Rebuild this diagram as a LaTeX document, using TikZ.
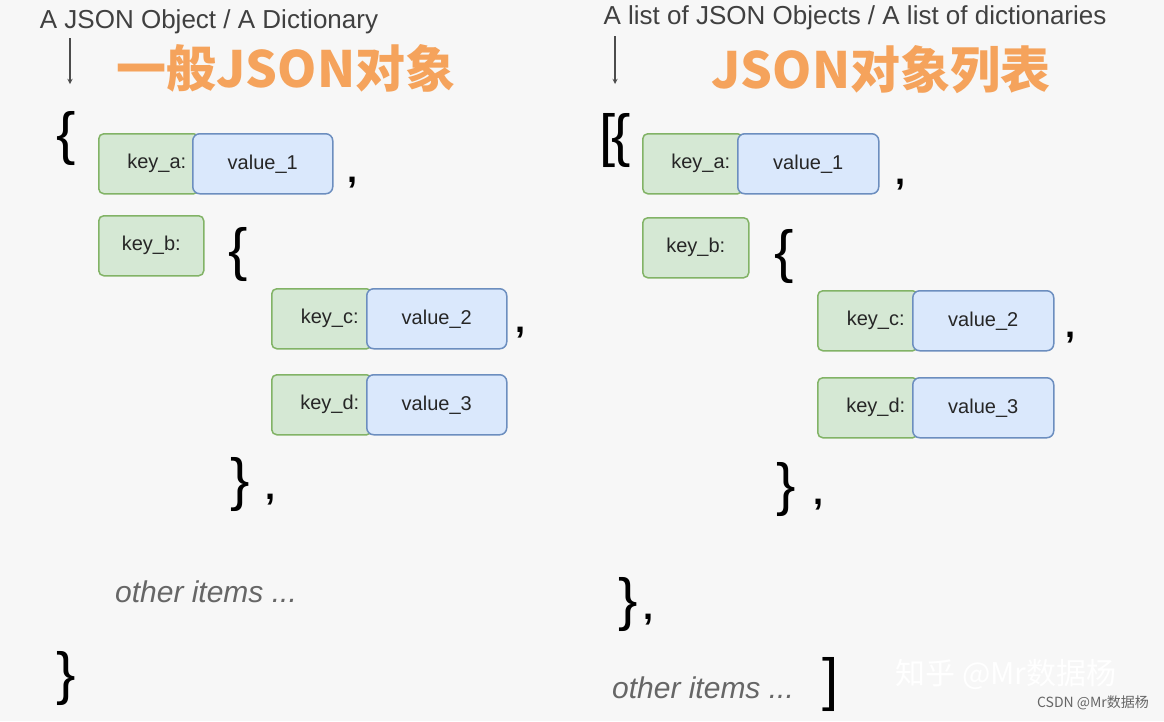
\documentclass[tikz,border=0pt]{standalone}
\usepackage{fontspec}
\setmainfont{Liberation Sans}
\newfontfamily\cjk{Noto Sans CJK SC}
\usetikzlibrary{positioning}
\definecolor{keyfill}{HTML}{D5E8D4}
\definecolor{keydraw}{HTML}{82B366}
\definecolor{valfill}{HTML}{DAE8FC}
\definecolor{valdraw}{HTML}{6C8EBF}
\definecolor{titleorange}{HTML}{F5A35C}
\definecolor{bggray}{HTML}{F7F7F7}
\begin{document}
\begin{tikzpicture}[
    x=1pt, y=-1pt,
    keybox/.style={rectangle, rounded corners=5pt, draw=keydraw, fill=keyfill, line width=1.5pt, minimum height=60pt, anchor=north west, inner sep=0pt, font=\fontsize{20}{24}\selectfont, text=black!85},
    valbox/.style={rectangle, rounded corners=7pt, draw=valdraw, fill=valfill, line width=1.5pt, minimum height=60pt, minimum width=140pt, anchor=north west, inner sep=0pt, font=\fontsize{20}{24}\selectfont, text=black!85},
    heading/.style={font=\fontsize{26}{30}\selectfont, text=black!75},
    cntitle/.style={font=\cjk\bfseries\fontsize{50}{56}\selectfont, text=titleorange},
    brace/.style={font=\fontsize{58}{60}\selectfont, inner sep=0pt},
    punct/.style={font=\bfseries\fontsize{36}{40}\selectfont, inner sep=0pt},
    other/.style={font=\itshape\fontsize{30}{34}\selectfont, text=black!60},
    arrow/.style={->, >=stealth, line width=1.3pt, black!70}
]
\fill[bggray] (0,0) rectangle (1164,721);
\useasboundingbox (0,0) rectangle (1164,721);

% left: a plain object
\node[heading] (lhead) at (209,22) {A JSON Object / A Dictionary};
\coordinate (larrowtop) at (70,38);
\coordinate (larrowend) at (70,84);
\draw[arrow] (larrowtop) -- (larrowend);
\node[cntitle] (ltitle) at (286,68) {一般JSON对象};
\node[brace] (lopen) at (66,138) {\{};
\node[keybox, minimum width=100pt] (lkeya) at (98,133) {\hspace{16pt}key\_a:\hspace{40pt}};
\node[valbox] (lvala) at (192,133) {value\_1};
\node[punct] (lcomma1) at (352,183) {,};
\node[keybox, minimum width=105pt] (lkeyb) at (98,215) {key\_b:};
\node[brace] (lopenb) at (238,254) {\{};
\node[keybox, minimum width=100pt] (lkeyc) at (271,288) {\hspace{16pt}key\_c:\hspace{40pt}};
\node[valbox] (lvalc) at (366,288) {value\_2};
\node[punct] (lcomma2) at (520,333) {,};
\node[keybox, minimum width=100pt] (lkeyd) at (271,374) {\hspace{16pt}key\_d:\hspace{40pt}};
\node[valbox] (lvald) at (366,374) {value\_3};
\node[brace] (lcloseb) at (240,484) {\}};
\node[punct] (lcomma3) at (270,500) {,};
\node[other] (lother) at (206,592) {other items ...};
\node[brace] (lclose) at (66,678) {\}};

% right: a list of objects
\node[heading] (rhead) at (855,18) {A list of JSON Objects / A list of dictionaries};
\coordinate (rarrowtop) at (615,36);
\coordinate (rarrowend) at (615,84);
\draw[arrow] (rarrowtop) -- (rarrowend);
\node[cntitle] (rtitle) at (881,70) {JSON对象列表};
\node[brace] (ropen) at (615,140) {[\kern-4pt\{};
\node[keybox, minimum width=100pt] (rkeya) at (642,133) {\hspace{16pt}key\_a:\hspace{40pt}};
\node[valbox, minimum width=141pt] (rvala) at (737,133) {value\_1};
\node[punct] (rcomma1) at (900,185) {,};
\node[keybox, minimum width=106pt] (rkeyb) at (642,217) {key\_b:};
\node[brace] (ropenb) at (784,256) {\{};
\node[keybox, minimum width=100pt] (rkeyc) at (817,290) {\hspace{16pt}key\_c:\hspace{40pt}};
\node[valbox, minimum width=141pt] (rvalc) at (912,290) {value\_2};
\node[punct] (rcomma2) at (1070,338) {,};
\node[keybox, minimum width=100pt] (rkeyd) at (817,377) {\hspace{16pt}key\_d:\hspace{40pt}};
\node[valbox, minimum width=141pt] (rvald) at (912,377) {value\_3};
\node[brace] (rcloseb) at (786,489) {\}};
\node[punct] (rcomma3) at (818,505) {,};
\node[brace] (rclose) at (628,604) {\}};
\node[punct] (rcomma4) at (648,620) {,};
\node[other] (rother) at (703,688) {other items ...};
\node[brace] (rendlist) at (831,684) {]};

% watermarks
\node[font=\cjk\fontsize{30}{34}\selectfont, text=white, draw=none] (zhihu) at (1006,674) {知乎 @Mr数据杨};
\node[font=\cjk\fontsize{14}{16}\selectfont, text=black!60] (csdn) at (1093,703) {CSDN @Mr数据杨};
\end{tikzpicture}
\end{document}
